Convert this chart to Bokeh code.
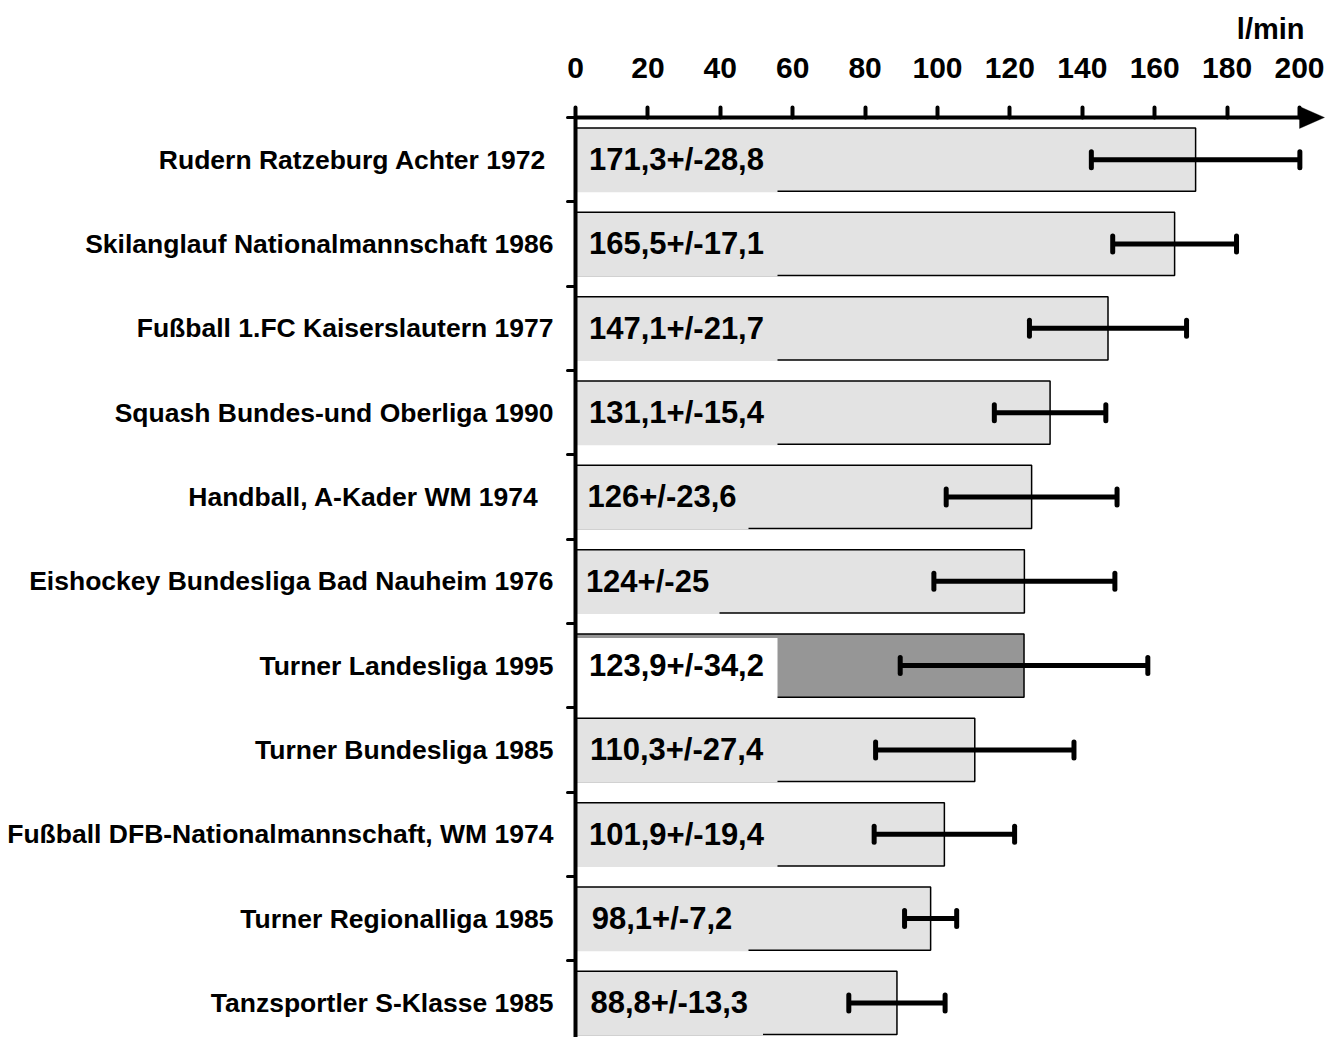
import math
from bokeh.plotting import figure
from bokeh.models import FixedTicker, Range1d, PolyAnnotation, LinearAxis
from bokeh.core.properties import value
from bokeh.embed import file_html
from bokeh.resources import INLINE

categories = [
    "Rudern Ratzeburg Achter 1972\u00a0",
    "Skilanglauf Nationalmannschaft 1986",
    "Fußball 1.FC Kaiserslautern 1977",
    "Squash Bundes-und Oberliga 1990",
    "Handball, A-Kader WM 1974\u00a0\u00a0",
    "Eishockey Bundesliga Bad Nauheim 1976",
    "Turner Landesliga 1995",
    "Turner Bundesliga 1985",
    "Fußball DFB-Nationalmannschaft, WM 1974",
    "Turner Regionalliga 1985",
    "Tanzsportler S-Klasse 1985",
]
means = [171.3, 165.5, 147.1, 131.1, 126, 124, 123.9, 110.3, 101.9, 98.1, 88.8]
sds = [28.8, 17.1, 21.7, 15.4, 23.6, 25, 34.2, 27.4, 19.4, 7.2, 13.3]
value_labels = [
    "171,3+/-28,8", "165,5+/-17,1", "147,1+/-21,7", "131,1+/-15,4",
    "126+/-23,6", "124+/-25", "123,9+/-34,2", "110,3+/-27,4",
    "101,9+/-19,4", "98,1+/-7,2", "88,8+/-13,3",
]
highlight = "Turner Landesliga 1995"
x_ticks = [0, 20, 40, 60, 80, 100, 120, 140, 160, 180, 200]
unit = "l/min"

FONT = value("Liberation Sans")
n = len(categories)
ypos = [n - 1 - i for i in range(n)]

PX_PER_UNIT = 3.62
PX_PER_CAT = 84.35
FRAME_LEFT_PX = 559
FRAME_W_PX = 768
X_START = -16 / PX_PER_UNIT            # a little room left of 0 for the "0" label
X_END = X_START + FRAME_W_PX / PX_PER_UNIT
FRAME_TOP_PX = 48
AXIS_PX = 117
AXIS_Y = n - 0.5                                          # where the top axis sits
Y_TOP = AXIS_Y + (AXIS_PX - FRAME_TOP_PX) / PX_PER_CAT    # room above it for labels / arrow
Y_BOT = -0.41

bar_colors = ["#969696" if c == highlight else "#e3e3e3" for c in categories]
box_colors = ["#ffffff" if c == highlight else "#e3e3e3" for c in categories]
box_w = [(14.5 * len(t) + 28) / PX_PER_UNIT for t in value_labels]
lo = [m - s for m, s in zip(means, sds)]
hi = [m + s for m, s in zip(means, sds)]

p = figure(width=FRAME_LEFT_PX + FRAME_W_PX + 6, height=1037,
           x_range=Range1d(X_START, X_END), y_range=Range1d(Y_BOT, Y_TOP),
           output_backend="svg", toolbar_location=None, x_axis_location="above",
           min_border_left=FRAME_LEFT_PX, min_border_right=6, min_border_top=FRAME_TOP_PX,
           min_border_bottom=0)
p.outline_line_color = None
p.xgrid.visible = False
p.ygrid.visible = False
p.background_fill_color = "white"

# x axis (top), pinned at the top of the bars
xa = p.xaxis[0]
xa.fixed_location = AXIS_Y
xa.bounds = (0, x_ticks[-1] + 3)
xa.ticker = FixedTicker(ticks=x_ticks)
xa.axis_line_width = 4
xa.major_tick_out = 10
xa.major_tick_in = 0
xa.major_tick_line_width = 4
xa.major_tick_line_cap = "round"
xa.minor_tick_line_color = None
xa.major_label_text_font = "Liberation Sans"
xa.major_label_text_font_style = "bold"
xa.major_label_text_font_size = "30px"
xa.major_label_text_color = "black"
xa.major_label_standoff = 29

# y axis with the category names (at the frame edge, no line)
ya = p.yaxis[0]
ya.ticker = FixedTicker(ticks=ypos)
ya.major_label_overrides = {y: c for y, c in zip(ypos, categories)}
ya.axis_line_color = None
ya.major_tick_line_color = None
ya.minor_tick_line_color = None
ya.major_tick_out = 0
ya.major_tick_in = 0
ya.minor_tick_out = 0
ya.minor_tick_in = 0
ya.major_label_text_font = "Liberation Sans"
ya.major_label_text_font_style = "bold"
ya.major_label_text_font_size = "26.5px"
ya.major_label_text_color = "black"
ya.major_label_standoff = 6

# y axis line at x = 0 with ticks between the categories
ya2 = LinearAxis(fixed_location=0, bounds=(Y_BOT, AXIS_Y),
                 ticker=FixedTicker(ticks=[], minor_ticks=[k + 0.5 for k in range(-1, n)]),
                 axis_line_width=4, major_tick_line_color=None,
                 minor_tick_out=8, minor_tick_in=0, minor_tick_line_width=3,
                 minor_tick_line_cap="round", major_label_text_color=None)
p.add_layout(ya2, "left")

# bars
p.hbar(y=ypos, left=0, right=means, height=0.75, fill_color=bar_colors,
       line_color="black", line_width=1.5)

# label boxes
p.quad(left=0, right=box_w, top=[y + 0.375 - 0.047 for y in ypos],
       bottom=[y - 0.375 - 0.012 for y in ypos], fill_color=box_colors, line_color=None)
p.text(x=[w / 2 for w in box_w], y=ypos, text=value_labels, text_align="center",
       text_baseline="middle", text_font=FONT, text_font_style="bold",
       text_font_size="31px", text_color="black")

# error bars
p.segment(x0=lo, y0=ypos, x1=hi, y1=ypos, line_width=5, line_color="black")
p.scatter(x=lo + hi, y=ypos + ypos, marker="dash", angle=math.pi / 2, size=16,
          line_width=5, line_color="black", line_cap="round")

# axis arrow head
head_len = 25 / PX_PER_UNIT
head_half = 11 / PX_PER_CAT
ax_end = x_ticks[-1]
p.add_layout(PolyAnnotation(xs=[ax_end, ax_end + head_len, ax_end],
                            ys=[AXIS_Y + head_half, AXIS_Y, AXIS_Y - head_half],
                            fill_color="black", fill_alpha=1.0, line_color="black", line_width=1))

p.title.text = unit
p.title.align = "right"
p.title.text_font = "Liberation Sans"
p.title.text_font_style = "bold"
p.title.text_font_size = "29px"
p.title.text_color = "black"
p.title.offset = 23
p.title.standoff = 8

open("out.html", "w").write(file_html(p, INLINE))
